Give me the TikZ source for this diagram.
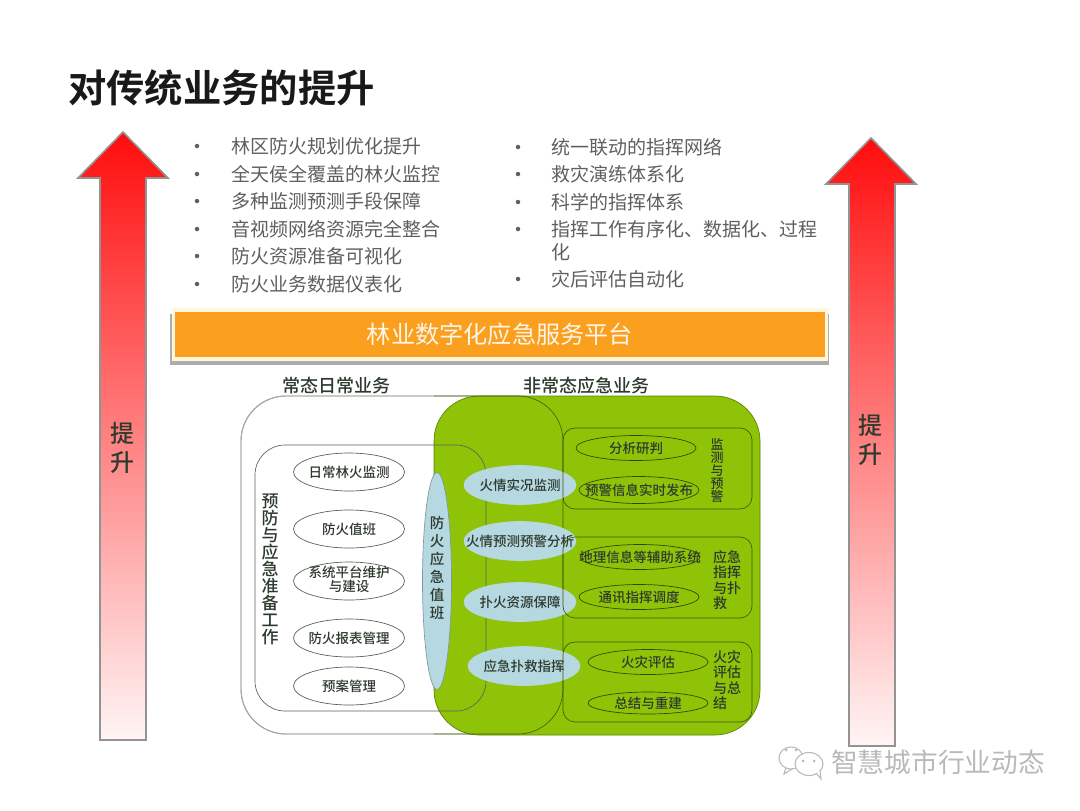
\documentclass[tikz,border=0pt]{standalone}
\usepackage{fontspec}
\usetikzlibrary{shapes.geometric}
\setmainfont{Noto Sans CJK SC Medium}
\newfontfamily\cjkbold{Noto Sans CJK SC Bold}
\newfontfamily\cjkreg{Noto Sans CJK SC}
\newcommand\pxl[2]{\fontsize{\the\dimexpr #1pt*3/4\relax}{\the\dimexpr #2pt*3/4\relax}\selectfont}
\newcommand\T[1]{\makebox[0pt]{\smash{\raisebox{-.37em}{#1}}}}
\definecolor{grn}{HTML}{8FC307}
\definecolor{lblue}{HTML}{B6D8E1}
\definecolor{ink}{HTML}{2E3A2E}
\definecolor{bul}{HTML}{5F5F5F}
\definecolor{org}{HTML}{FB9F1F}
\definecolor{cream}{HTML}{FFF6DC}
\tikzset{
  bigarrow/.style={draw=gray!85,line width=1.2pt,top color=red!95!white,middle color=red!52!white,bottom color=red!4!white},
  arrowtext/.style={align=center,text=ink,font=\pxl{24}{29}},
  bullettext/.style={anchor=west,inner sep=0pt,text=bul,font=\cjkreg\pxl{19}{24}},
  bulletdot/.style={circle,fill=bul,inner sep=0pt,minimum size=4.5pt*.75},
  ell/.style={ellipse,inner sep=0pt,draw=#1,line width=.5pt},
  whiteell/.style={ell=gray!70!black,minimum width=111pt*.75,minimum height=38pt*.75,text=ink,font=\pxl{13.5}{17}},
  blueell/.style={ell=lblue,fill=lblue,minimum width=112pt*.75,minimum height=39pt*.75,text=ink,font=\pxl{13.5}{17}},
  greenell/.style={ell=black!65!grn,minimum width=120pt*.75,minimum height=25pt*.75,text=ink,font=\pxl{13.5}{17}},
  head/.style={text=ink,font=\pxl{18}{22}},
  sidetext/.style={align=left,text=ink,inner sep=0pt,font=\pxl{14}{15.3}},
  boxline/.style={draw=black!55!grn,line width=.5pt,rounded corners=9pt}
}
\begin{document}
\begin{tikzpicture}[x=.75pt,y=-.75pt]
\useasboundingbox (0,0) rectangle (1080,810);
% title
\node[anchor=west,inner sep=0pt,font=\cjkbold\pxl{38.3}{44},text=black!90] (title) at (68,88) {对传统业务的提升};
% arrows
\path[bigarrow] (123,132) -- (168,178) -- (146,178) -- (146,740) -- (100,740) -- (100,178) -- (78,178) -- cycle;
\path[bigarrow] (871,138) -- (916,184) -- (895,184) -- (895,746) -- (849,746) -- (849,184) -- (826,184) -- cycle;
\node[arrowtext] (ltxt) at (122,448) {提\\升};
\node[arrowtext] (rtxt) at (870,440) {提\\升};
% bullets
\foreach \i/\y/\t in {1/146/林区防火规划优化提升,2/174/全天侯全覆盖的林火监控,3/201/多种监测预测手段保障,4/229/音视频网络资源完全整合,5/256/防火资源准备可视化,6/284/防火业务数据仪表化}{
  \node[bulletdot] (ld\i) at (197,\y) {};
  \node[bullettext] (lt\i) at (231,\y) {\t};
}
\foreach \i/\y/\t in {1/147/统一联动的指挥网络,2/174/救灾演练体系化,3/202/科学的指挥体系,4/229/指挥工作有序化、数据化、过程,6/279/灾后评估自动化}{
  \node[bulletdot] (rd\i) at (518,\y) {};
  \node[bullettext] (rt\i) at (551,\y) {\t};
}
\node[bullettext] (rt5) at (551,252) {化};
% orange bar
\fill[gray!65] (170,314) rectangle (829,365);
\node[draw=cream,line width=2.4pt,fill=org,minimum width=653pt*.75,minimum height=49pt*.75,inner sep=0pt,text=white!90!org,font=\cjkreg\pxl{24.2}{28}] (bar) at (500,334.5) {林业数字化应急服务平台};
% headers
\node[head] (h1) at (336,386) {常态日常业务};
\node[head] (h2) at (586,386) {非常态应急业务};
% big regions
\path[fill=white,draw=gray!70,line width=.7pt,rounded corners=45pt*.75] (241,396) rectangle (563,734);
\path[fill=grn,draw=black!35!grn,line width=.5pt,rounded corners=45pt*.75] (434,396) rectangle (760,735);
\path[draw=black!50!grn,line width=.5pt,rounded corners=45pt*.75] (434,734) -- (563,734) -- (563,396) -- (434,396);
\path[draw=gray!70,line width=.7pt,rounded corners=45pt*.75] (434,396) -- (241,396) -- (241,734) -- (434,734);
\path[draw=gray!75!black,line width=.5pt,rounded corners=30pt*.75] (255,445) rectangle (486,711);
% side label in left panel
\node[align=center,text=ink,font=\pxl{17}{17}] (prep) at (270,569) {预\\防\\与\\应\\急\\准\\备\\工\\作};
% left ellipses
\node[whiteell] (a1) at (349,472) {\T{日常林火监测}};
\node[whiteell] (a2) at (349,529) {\T{防火值班}};
\node[whiteell] (a3) at (349,581) {\makebox[0pt]{\smash{\raisebox{-.25em}{\begin{tabular}[c]{@{}c@{}}系统平台维护\\[-.2em]与建设\end{tabular}}}}};
\node[whiteell] (a4) at (349,638) {\T{防火报表管理}};
\node[whiteell] (a5) at (349,686) {\T{预案管理}};
% central ellipse
\node[ell=lblue!70!black,fill=lblue,minimum width=29pt*.75,minimum height=217pt*.75] (c0) at (437,581) {};
\node[align=center,text=ink,inner sep=0pt,font=\pxl{14.5}{18}] (c0t) at (437,568) {防\\火\\应\\急\\值\\班};
% blue ellipses
\node[blueell] (b1) at (520,485) {\T{火情实况监测}};
\node[blueell] (b2) at (520,541) {\T{火情预测预警分析}};
\node[blueell] (b3) at (520,602) {\T{扑火资源保障}};
\node[blueell] (b4) at (524,666) {\T{应急扑救指挥}};
% right boxes
\path[boxline] (563,428) rectangle (752,509);
\path[boxline] (563,537) rectangle (752,618);
\path[boxline] (563,642) rectangle (752,722);
% green ellipses
\node[greenell] (g1) at (636,448) {\T{分析研判}};
\node[greenell,minimum height=27pt*.75] (g2) at (639,490) {\T{预警信息实时发布}};
\node[greenell] (g3) at (640,557) {\T{地理信息等辅助系统}};
\node[greenell] (g4) at (639,597) {\T{通讯指挥调度}};
\node[greenell] (g5) at (648,662) {\T{火灾评估}};
\node[greenell,minimum height=22pt*.75] (g6) at (648,703) {\T{总结与重建}};
\node[sidetext,align=center,font=\pxl{13}{13}] (s1) at (717,471) {监\\测\\与\\预\\警};
\node[sidetext] (s2) at (727,580) {应急\\指挥\\与扑\\救};
\node[sidetext] (s3) at (727,680) {火灾\\评估\\与总\\结};
% watermark
\path[draw=gray!55,line width=.8pt,fill=white] (786,767) -- (784,774) -- (792,769) -- cycle;
\node[ellipse,draw=gray!55,line width=.8pt,fill=white,minimum width=24pt*.75,minimum height=22pt*.75,inner sep=0pt] (w1) at (791,758) {};
\node[ellipse,draw=gray!55,line width=.8pt,fill=white,minimum width=28pt*.75,minimum height=23pt*.75,inner sep=0pt] (w2) at (809,764) {};
\path[draw=gray!55,line width=.8pt,fill=white] (816,773) -- (821,779) -- (820,770);
\foreach \i/\x/\y in {1/786/750,2/796/750,3/803/761,4/814/761}{\fill[gray!55] (\x,\y) circle (1.5);}
\node[anchor=west,inner sep=0pt,text=gray!55,font=\cjkreg\pxl{26.7}{30}] (wm) at (831,762) {智慧城市行业动态};
\end{tikzpicture}
\end{document}
